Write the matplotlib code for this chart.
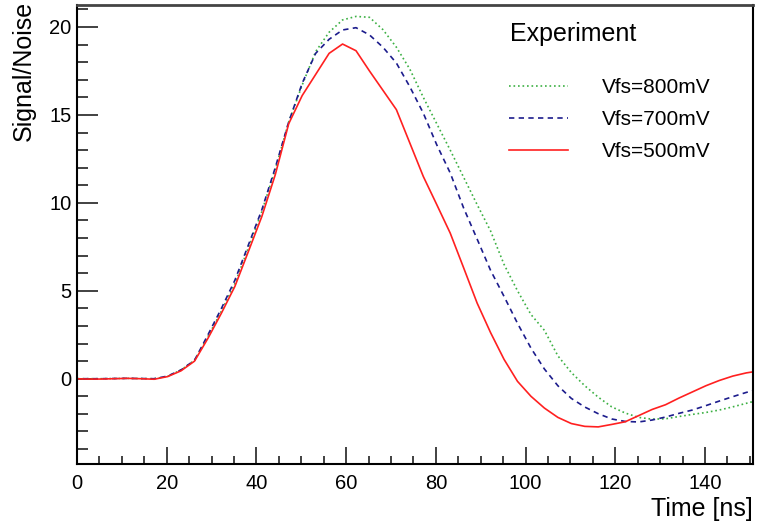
import matplotlib
matplotlib.use("Agg")
import matplotlib.pyplot as plt
from matplotlib.ticker import MultipleLocator

plt.rcParams["font.family"] = ["Liberation Sans", "DejaVu Sans"]

# Sampling times [ns]
time_ns = [-0.8, 2.2, 5.2, 8.2, 11.2, 14.2, 17.2, 20.2, 23.2, 26.2, 29.2, 32.2,
           35.2, 38.2, 41.2, 44.2, 47.2, 50.2, 53.2, 56.2, 59.2, 62.2, 65.2,
           68.2, 71.2, 74.2, 77.2, 80.2, 83.2, 86.2, 89.2, 92.2, 95.2, 98.2,
           101.2, 104.2, 107.2, 110.2, 113.2, 116.2, 119.2, 122.2, 125.2,
           128.2, 131.2, 134.2, 137.2, 140.2, 143.2, 146.2, 149.2, 152.2]

# Signal/Noise for each full-scale voltage setting
sn_800mV = [0.0, 0.0, 0.0, 0.01, 0.02, 0.01, 0.0, 0.13, 0.5, 1.05, 2.4, 3.85,
            5.4, 7.45, 9.5, 11.9, 14.6, 16.7, 18.6, 19.7, 20.4, 20.6, 20.55,
            19.85, 18.85, 17.6, 16.0, 14.5, 13.0, 11.45, 9.9, 8.4, 6.5, 5.0,
            3.65, 2.75, 1.3, 0.35, -0.4, -1.05, -1.6, -1.95, -2.2,
            -2.3, -2.28, -2.15, -2.03, -1.92, -1.78, -1.6, -1.4, -1.2]
sn_700mV = [0.0, 0.0, 0.0, 0.01, 0.02, 0.01, 0.0, 0.15, 0.5, 1.05, 2.5, 4.0,
            5.6, 7.6, 9.6, 12.0, 14.6, 16.8, 18.5, 19.3, 19.83, 19.96, 19.55,
            18.85, 17.95, 16.6, 15.1, 13.3, 11.7, 9.7, 7.94, 6.16, 4.68, 3.15,
            1.74, 0.55, -0.4, -1.12, -1.61, -1.99, -2.29, -2.43, -2.46,
            -2.35, -2.18, -1.97, -1.78, -1.53, -1.27, -1.02, -0.78, -0.58]
sn_500mV = [0.0, -0.02, -0.02, 0.0, 0.02, 0.0, -0.03, 0.12, 0.45, 1.0, 2.3, 3.73,
            5.25, 7.23, 9.22, 11.6, 14.5, 16.1, 17.3, 18.5, 19.03, 18.65, 17.5,
            16.4, 15.3, 13.4, 11.5, 9.9, 8.28, 6.3, 4.3, 2.62, 1.1, -0.15,
            -1.0, -1.67, -2.2, -2.55, -2.71, -2.74, -2.6, -2.45, -2.1,
            -1.75, -1.48, -1.1, -0.75, -0.4, -0.1, 0.15, 0.33, 0.45]

labels = ["Vfs=800mV", "Vfs=700mV", "Vfs=500mV"]
legend_title = "Experiment"
x_title = "Time [ns]"
y_title = "Signal/Noise"

W, H = 762, 526
fig = plt.figure(figsize=(W / 100, H / 100), dpi=100)
ax = fig.add_axes([77 / W, (H - 464) / H, (753 - 77) / W, (464 - 5) / H])

lw = 1.2
l800, = ax.plot(time_ns, sn_800mV, color="#3cb043", lw=lw, dashes=(1.0, 1.7))
l700, = ax.plot(time_ns, sn_700mV, color="#1c1c8c", lw=lw, dashes=(3.2, 2.6))
l500, = ax.plot(time_ns, sn_500mV, color="#ff2020", lw=lw)

ax.set_xlim(0, 150.7)
ax.set_ylim(-4.85, 21.25)

ax.xaxis.set_major_locator(MultipleLocator(20))
ax.xaxis.set_minor_locator(MultipleLocator(5))
ax.yaxis.set_major_locator(MultipleLocator(5))
ax.yaxis.set_minor_locator(MultipleLocator(1))

ax.tick_params(axis="both", which="both", direction="in", color="#333333",
               width=1.3, top=False, right=False, labelsize=14.5)
ax.tick_params(axis="y", which="major", length=15, pad=4)
ax.tick_params(axis="y", which="minor", length=8)
ax.tick_params(axis="x", which="major", length=12, pad=7)
ax.tick_params(axis="x", which="minor", length=6)

for side in ("left", "bottom", "right"):
    ax.spines[side].set_color("black")
    ax.spines[side].set_linewidth(1.5)
ax.spines["top"].set_color("#444444")
ax.spines["top"].set_linewidth(2.0)

# Axis titles, aligned to the ends of the axes
fig.text(753 / W, 1 - 516 / H, x_title, ha="right", va="baseline", fontsize=18)
fig.text(12 / W, 1 - 1 / H, y_title, ha="left", va="top", rotation=90,
         fontsize=18)

# Legend
fig.text(510 / W, 1 - 34 / H, legend_title, ha="left", va="center", fontsize=18)
leg = ax.legend([l800, l700, l500], labels, loc="upper left",
                bbox_to_anchor=(509 / W, 1 - 78 / H),
                bbox_transform=fig.transFigure, frameon=False, fontsize=15,
                handlelength=2.85, handletextpad=1.6, labelspacing=0.62,
                borderpad=0, borderaxespad=0)

fig.savefig("out.png", dpi=100)
